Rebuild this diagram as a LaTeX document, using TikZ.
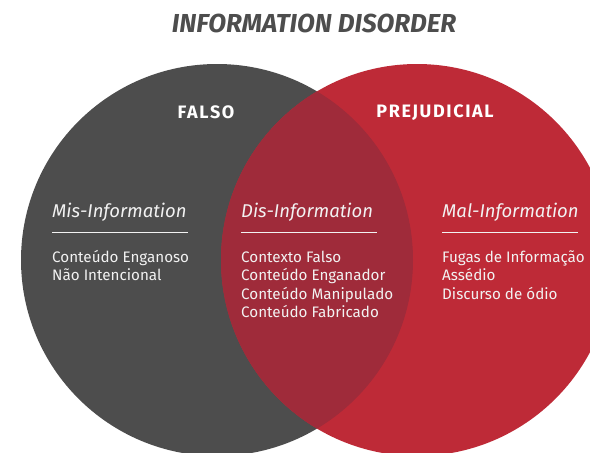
\documentclass[tikz,border=0pt]{standalone}
\usepackage{fontspec}
\setmainfont{Fira Sans}
\definecolor{cinza}{HTML}{4D4D4D}
\definecolor{vermelho}{HTML}{BE2A37}
\definecolor{sobreposto}{HTML}{9F2B3A}
\definecolor{claro}{HTML}{F2F2F2}

\tikzset{
	cabecalho/.style={text=white,inner sep=0pt,
		font=\bfseries\fontsize{18}{21}\selectfont\addfontfeatures{LetterSpace=9}},
	subtitulo/.style={text=claro,inner sep=0pt,anchor=base west,
		font=\itshape\fontsize{18.5}{22}\selectfont},
	corpo/.style={text=claro,inner sep=0pt,anchor=base west,
		font=\fontsize{15.2}{18.5}\selectfont},
}

\begin{document}
\begin{tikzpicture}[x=1pt,y=-1pt]
	\useasboundingbox (0,0) rectangle (590,453);
	% os dois circulos e a parte comum
	\fill[cinza] (217,260) circle (196pt);
	\fill[vermelho] (417,260) circle (196pt);
	\begin{scope}
		\clip (217,260) circle (196pt);
		\fill[sobreposto] (417,260) circle (196pt);
	\end{scope}
	
	\node[text=cinza,inner sep=0pt,font=\bfseries\itshape\fontsize{26}{30}\selectfont]
		(titulo) at (314,23) {INFORMATION DISORDER};
	\node[cabecalho] (falso) at (206,112.5) {FALSO};
	\node[cabecalho] (prejudicial) at (435,112.5) {PREJUDICIAL};
	
	% colunas: titulo e traco
	\foreach \x/\nome/\tit in {52/mis/Mis-Information,241/dis/Dis-Information,442/mal/Mal-Information}
	{
		\node[subtitulo] (\nome) at (\x,217) {\tit};
		\draw[claro,line width=.8pt] (\x,232)--++(136,0);
	}
	% listas, uma linha por no
	\foreach \t [count=\i] in {Conteúdo Enganoso,Não Intencional}
		\node[corpo] (mis\i) at (52,243.5+18.5*\i) {\t};
	\foreach \t [count=\i] in {Contexto Falso,Conteúdo Enganador,Conteúdo Manipulado,Conteúdo Fabricado}
		\node[corpo] (dis\i) at (241,243.5+18.5*\i) {\t};
	\foreach \t [count=\i] in {Fugas de Informação,Assédio,Discurso de ódio}
		\node[corpo] (mal\i) at (442,243.5+18.5*\i) {\t};
\end{tikzpicture}
\end{document}
